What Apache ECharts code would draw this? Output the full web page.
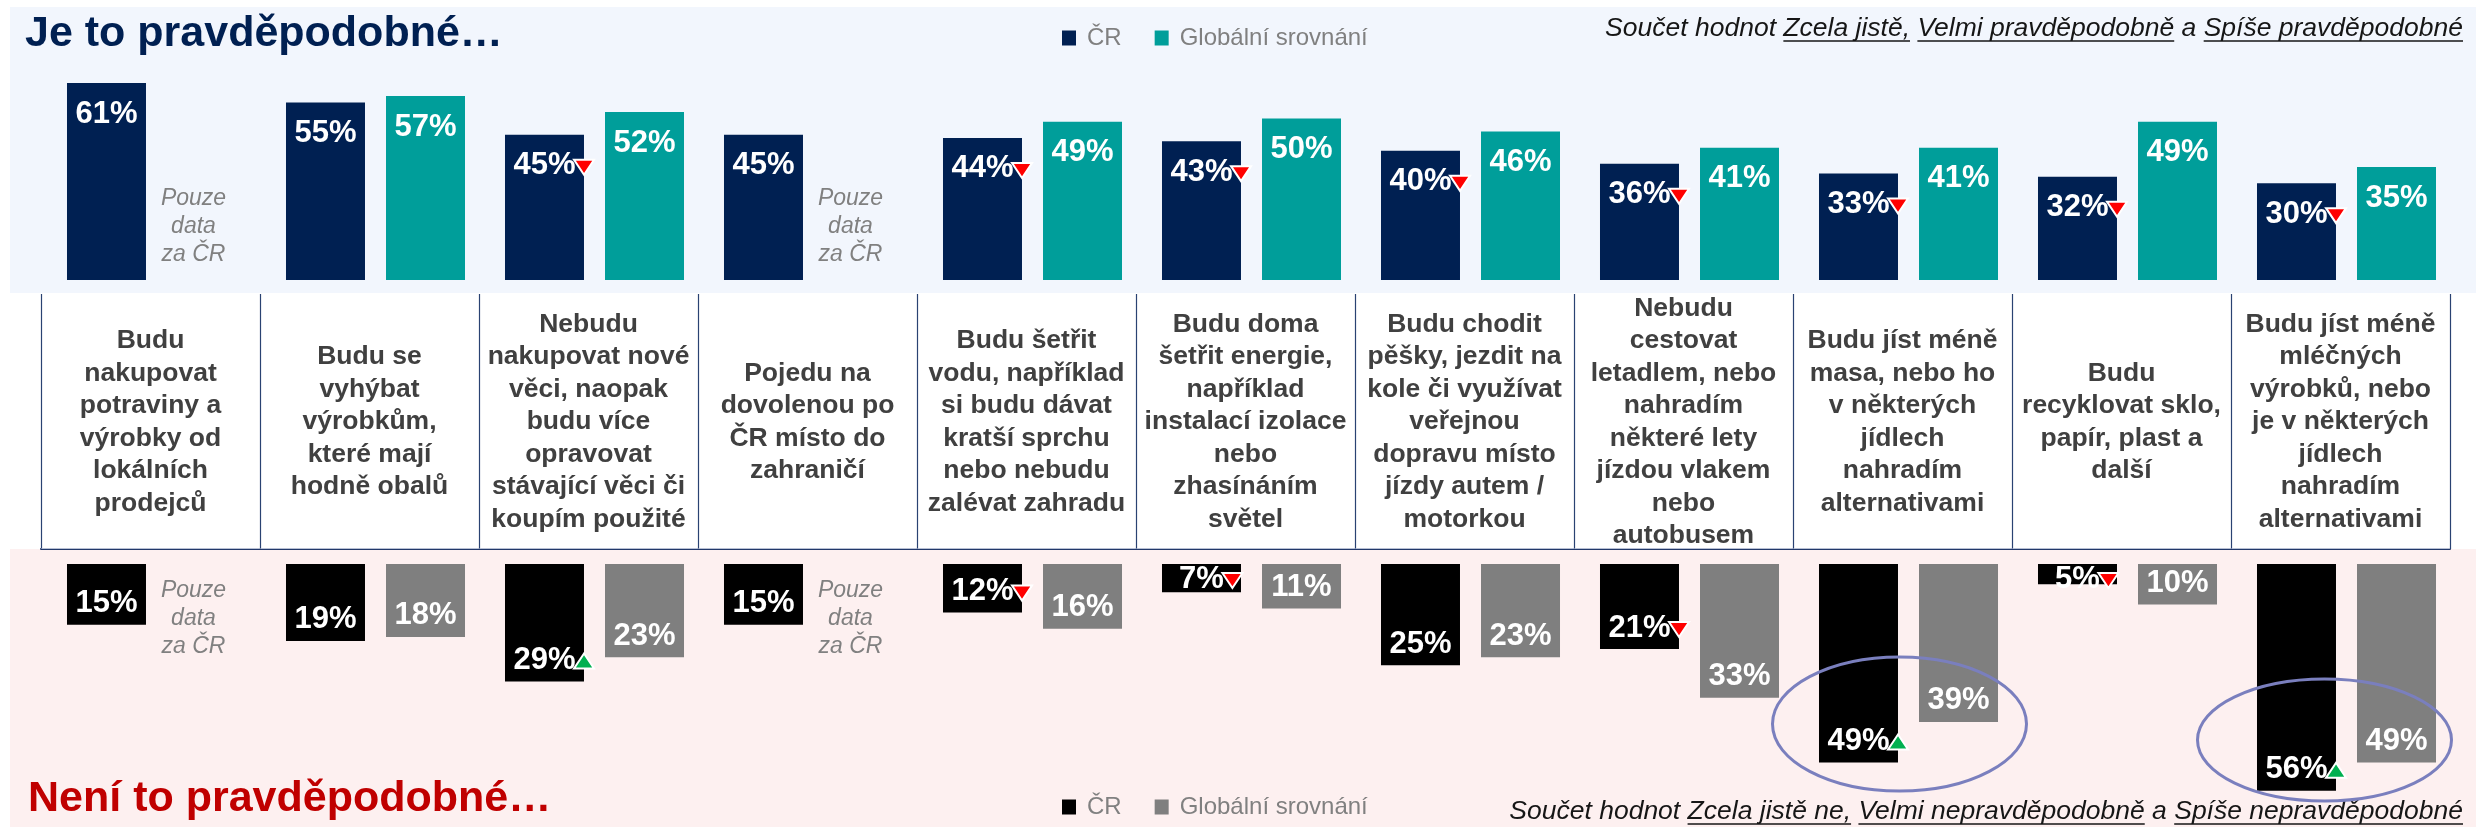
<!DOCTYPE html>
<html lang="cs">
<head>
<meta charset="utf-8">
<title>Je to pravděpodobné…</title>
<script src="https://cdn.jsdelivr.net/npm/echarts@6/dist/echarts.min.js"></script>
<style>
  html, body { margin: 0; padding: 0; background: #ffffff; }
  #chart { width: 2476px; height: 827px; }
</style>
</head>
<body>
<div id="chart"></div>
<script>
// ---- data -------------------------------------------------------------
const categories = [
  'Budu\nnakupovat\npotraviny a\nvýrobky od\nlokálních\nprodejců',
  'Budu se\nvyhýbat\nvýrobkům,\nkteré mají\nhodně obalů',
  'Nebudu\nnakupovat nové\nvěci, naopak\nbudu více\nopravovat\nstávající věci či\nkoupím použité',
  'Pojedu na\ndovolenou po\nČR místo do\nzahraničí',
  'Budu šetřit\nvodu, například\nsi budu dávat\nkratší sprchu\nnebo nebudu\nzalévat zahradu',
  'Budu doma\nšetřit energie,\nnapříklad\ninstalací izolace\nnebo\nzhasínáním\nsvětel',
  'Budu chodit\npěšky, jezdit na\nkole či využívat\nveřejnou\ndopravu místo\njízdy autem /\nmotorkou',
  'Nebudu\ncestovat\nletadlem, nebo\nnahradím\nněkteré lety\njízdou vlakem\nnebo\nautobusem',
  'Budu jíst méně\nmasa, nebo ho\nv některých\njídlech\nnahradím\nalternativami',
  'Budu\nrecyklovat sklo,\npapír, plast a\ndalší',
  'Budu jíst méně\nmléčných\nvýrobků, nebo\nje v některých\njídlech\nnahradím\nalternativami'
];

// "Je to pravděpodobné" (sum of the three likely answers), %
const likelyCZ      = [61, 55, 45, 45, 44, 43, 40, 36, 33, 32, 30];
const likelyGlobal  = [null, 57, 52, null, 49, 50, 46, 41, 41, 49, 35];
// change marker for ČR: -1 = significantly lower, 1 = higher, 0 = none
const likelyTrend   = [0, 0, -1, 0, -1, -1, -1, -1, -1, -1, -1];

// "Není to pravděpodobné" (sum of the three unlikely answers), %
const unlikelyCZ     = [15, 19, 29, 15, 12, 7, 25, 21, 49, 5, 56];
const unlikelyGlobal = [null, 18, 23, null, 16, 11, 23, 33, 39, 10, 49];
const unlikelyTrend  = [0, 0, 1, 0, -1, -1, 0, -1, 1, -1, 1];

// categories circled in the lower panel
const circledCategories = [8, 10];

const legendLabels = ['ČR', 'Globální srovnání'];
const onlyCzNote = 'Pouze\ndata\nza ČR';
const likelyNote = [
  ['Součet hodnot ', false], ['Zcela jistě,', true], [' ', false],
  ['Velmi pravděpodobně', true], [' a ', false], ['Spíše pravděpodobné', true]
];
const unlikelyNote = [
  ['Součet hodnot ', false], ['Zcela jistě ne,', true], [' ', false],
  ['Velmi nepravděpodobně', true], [' a ', false], ['Spíše nepravděpodobné', true]
];

// ---- styles & layout --------------------------------------------------
const FONT = '"Liberation Sans", Arial, sans-serif';
const NAVY = '#002052', TEAL = '#009E9A', BLACK = '#000000', GREY = '#7F7F7F';
const BAR_W = 79, BAR_GAP = 21;
const HALF_PAIR = (BAR_W + BAR_GAP) / 2;
const LABEL_FONT = 'bold 31px ' + FONT;
const NOTE_FONT = 'italic 23px ' + FONT;
// ring geometry, relative to the category centre and the lower baseline
const ringLayout = [
  { dx: -9, dy: 160, rx: 127, ry: 67 },
  { dx: -22, dy: 176, rx: 127, ry: 61 }
];

const measureCtx = document.createElement('canvas').getContext('2d');
function textWidth(str, font) {
  measureCtx.font = font;
  return measureCtx.measureText(str).width;
}

const NAMES = {
  likelyCZ: legendLabels[0], likelyGlobal: legendLabels[1],
  unlikelyCZ: legendLabels[0] + ' (není)', unlikelyGlobal: legendLabels[1] + ' (není)'
};

function barSeries(name, values, panel, color) {
  return {
    name, type: 'bar', xAxisIndex: panel, yAxisIndex: panel,
    data: values.map(v => (v == null ? '-' : v)),
    barWidth: BAR_W, barGap: (BAR_GAP / BAR_W * 100).toFixed(1) + '%',
    itemStyle: { color }, silent: true
  };
}

// value labels (and change triangles) for one bar series
function labelSeries(values, trends, side, panel) {
  const data = [];
  values.forEach((v, i) => { if (v != null) data.push([i, v, trends ? trends[i] : 0]); });
  return {
    type: 'custom', xAxisIndex: panel, yAxisIndex: panel, z: 4, silent: true, clip: false,
    encode: { x: 0, y: 1 },
    data,
    renderItem(params, api) {
      const i = api.value(0), v = api.value(1), t = api.value(2);
      const end = api.coord([i, v]);
      const base = api.coord([i, 0]);
      const xc = end[0] + side * HALF_PAIR;
      const yc = panel === 0 ? end[1] + 31 : Math.max(end[1] - 21, base[1] + 15);
      const txt = v + '%';
      const children = [{
        type: 'text', x: xc, y: yc,
        style: { text: txt, font: LABEL_FONT, fill: '#ffffff', align: 'center', verticalAlign: 'middle' }
      }];
      if (t) {
        const tx = xc + textWidth(txt, LABEL_FONT) / 2 + 8.5, ty = yc + 1;
        const pts = t < 0
          ? [[tx - 10, ty - 7], [tx + 10, ty - 7], [tx, ty + 8]]
          : [[tx - 10, ty + 7], [tx + 10, ty + 7], [tx, ty - 8]];
        children.push({
          type: 'polygon', shape: { points: pts },
          style: { fill: t < 0 ? '#FF0000' : '#00B050', stroke: '#ffffff', lineWidth: 2, lineJoin: 'miter' }
        });
      }
      return { type: 'group', children };
    }
  };
}

// "Pouze data za ČR" where there is no global value
function onlyCzSeries(globalValues, panel) {
  const data = [];
  globalValues.forEach((v, i) => { if (v == null) data.push([i, 0]); });
  return {
    type: 'custom', xAxisIndex: panel, yAxisIndex: panel, z: 4, silent: true, clip: false,
    encode: { x: 0, y: 1 },
    data,
    renderItem(params, api) {
      const base = api.coord([api.value(0), 0]);
      return {
        type: 'text', x: base[0] + HALF_PAIR - 13, y: base[1] + (panel === 0 ? -53 : 55),
        style: { text: onlyCzNote, font: NOTE_FONT, fill: '#808080', lineHeight: 28,
                 align: 'center', verticalAlign: 'middle' }
      };
    }
  };
}

// cell borders of the statement table
const tableSeries = {
  type: 'custom', xAxisIndex: 2, yAxisIndex: 2, z: 1, silent: true, clip: false,
  encode: { x: 0, y: 1 },
  data: categories.map((c, i) => [i, 0]),
  renderItem(params, api) {
    const i = api.value(0);
    const xc = api.coord([i, 0])[0];
    const bw = api.size([1, 0])[0];
    const cs = params.coordSys;
    const x0 = Math.round(xc - bw / 2) + 0.5, x1 = Math.round(xc + bw / 2) + 0.5;
    const y0 = cs.y, y1 = cs.y + cs.height;
    const children = [
      { type: 'line', shape: { x1: x0, y1: y0, x2: x0, y2: y1 }, style: { stroke: '#2A4272', lineWidth: 1.2 } },
      { type: 'line', shape: { x1: x0, y1: y1 - 0.5, x2: x1, y2: y1 - 0.5 }, style: { stroke: '#B8C0D4', lineWidth: 1 } }
    ];
    if (i === categories.length - 1) {
      children.push({ type: 'line', shape: { x1: x1, y1: y0, x2: x1, y2: y1 }, style: { stroke: '#2A4272', lineWidth: 1.2 } });
    }
    return { type: 'group', children };
  }
};

// rings around the highlighted categories in the lower panel
const ringSeries = {
  type: 'custom', xAxisIndex: 1, yAxisIndex: 1, z: 5, silent: true, clip: false,
  encode: { x: 0, y: 1 },
  data: circledCategories.map((c, k) => [c, 0, k]),
  renderItem(params, api) {
    const base = api.coord([api.value(0), 0]);
    const r = ringLayout[api.value(2)];
    return {
      type: 'ellipse',
      shape: { cx: base[0] + r.dx, cy: base[1] + r.dy, rx: r.rx, ry: r.ry },
      style: { fill: 'none', stroke: '#7A7FBE', lineWidth: 3 }
    };
  }
};

function noteGraphic(segments, right, cy) {
  const font = 'italic 26.5px ' + FONT;
  const widths = segments.map(s => textWidth(s[0], font));
  let x = right - widths.reduce((a, b) => a + b, 0);
  const children = [];
  segments.forEach((s, k) => {
    children.push({ type: 'text', x, y: cy,
      style: { text: s[0], font, fill: '#161616', verticalAlign: 'middle' } });
    if (s[1]) {
      children.push({ type: 'line',
        shape: { x1: x, y1: cy + 12, x2: x + widths[k], y2: cy + 12 },
        style: { stroke: '#161616', lineWidth: 1.6 } });
    }
    x += widths[k];
  });
  return { type: 'group', silent: true, children };
}

function legend(names, top) {
  return {
    data: names, left: 1062, top, padding: 0, orient: 'horizontal',
    icon: 'rect', itemWidth: 14, itemHeight: 15, itemGap: 33, selectedMode: false,
    formatter: n => n.replace(' (není)', ''),
    textStyle: { fontFamily: FONT, fontSize: 24, color: '#808080', lineHeight: 30, padding: [0, 0, 0, 6] }
  };
}

const chart = echarts.init(document.getElementById('chart'));
chart.setOption({
  animation: false,
  backgroundColor: '#ffffff',
  textStyle: { fontFamily: FONT },
  grid: [
    { left: 47, right: 20, top: 54, bottom: 547 },
    { left: 47, right: 20, top: 564, bottom: 20 },
    { left: 41, right: 26, top: 294, bottom: 278, show: true, backgroundColor: '#ffffff', borderWidth: 0 }
  ],
  xAxis: [
    { gridIndex: 0, type: 'category', data: categories, show: false },
    { gridIndex: 1, type: 'category', data: categories, show: false },
    {
      gridIndex: 2, type: 'category', data: categories, position: 'top',
      axisLine: { show: true, lineStyle: { color: '#22386A', width: 2 } },
      axisTick: { show: false }, splitLine: { show: false },
      axisLabel: {
        inside: true, interval: 0, margin: 128, verticalAlign: 'middle', align: 'center',
        fontFamily: FONT, fontSize: 26.5, fontWeight: 'bold', color: '#404040', lineHeight: 32.5
      }
    }
  ],
  yAxis: [
    { gridIndex: 0, type: 'value', min: 0, max: 70, show: false },
    { gridIndex: 1, type: 'value', min: 0, max: 60, inverse: true, show: false },
    { gridIndex: 2, type: 'value', min: 0, max: 1, show: false }
  ],
  legend: [
    legend([NAMES.likelyCZ, NAMES.likelyGlobal], 23),
    legend([NAMES.unlikelyCZ, NAMES.unlikelyGlobal], 792)
  ],
  graphic: [
    { type: 'rect', z: -10, silent: true, shape: { x: 10, y: 7, width: 2466, height: 286 }, style: { fill: '#F2F6FD' } },
    { type: 'rect', z: -10, silent: true, shape: { x: 10, y: 549, width: 2466, height: 278 }, style: { fill: '#FDF0F0' } },
    { type: 'text', x: 25, y: 34, silent: true,
      style: { text: 'Je to pravděpodobné…', font: 'bold 43px ' + FONT, fill: NAVY, verticalAlign: 'middle' } },
    { type: 'text', x: 28, y: 799, silent: true,
      style: { text: 'Není to pravděpodobné…', font: 'bold 43px ' + FONT, fill: '#C00000', verticalAlign: 'middle' } },
    noteGraphic(likelyNote, 2463, 29),
    noteGraphic(unlikelyNote, 2463, 812)
  ],
  series: [
    barSeries(NAMES.likelyCZ, likelyCZ, 0, NAVY),
    barSeries(NAMES.likelyGlobal, likelyGlobal, 0, TEAL),
    barSeries(NAMES.unlikelyCZ, unlikelyCZ, 1, BLACK),
    barSeries(NAMES.unlikelyGlobal, unlikelyGlobal, 1, GREY),
    labelSeries(likelyCZ, likelyTrend, -1, 0),
    labelSeries(likelyGlobal, null, 1, 0),
    labelSeries(unlikelyCZ, unlikelyTrend, -1, 1),
    labelSeries(unlikelyGlobal, null, 1, 1),
    onlyCzSeries(likelyGlobal, 0),
    onlyCzSeries(unlikelyGlobal, 1),
    tableSeries,
    ringSeries
  ]
});
</script>
</body>
</html>
